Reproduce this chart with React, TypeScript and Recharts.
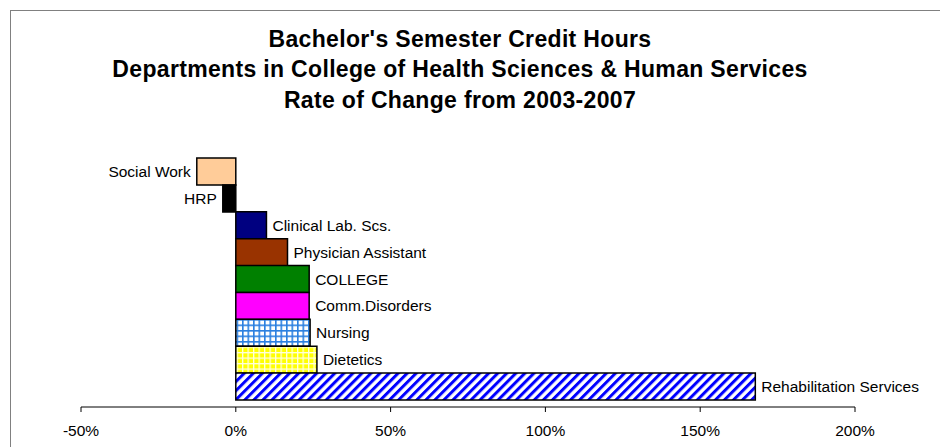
import { Bar, BarChart, Cell, LabelList, XAxis, YAxis } from 'recharts'

const departments = [
  'Social Work',
  'HRP',
  'Clinical Lab. Scs.',
  'Physician Assistant',
  'COLLEGE',
  'Comm.Disorders',
  'Nursing',
  'Dietetics',
  'Rehabilitation Services',
]
// rate of change 2003-2007, in percent
const rateOfChange = [-12.6, -4.2, 9.9, 16.7, 23.7, 23.7, 24.0, 26.2, 167.8]
const barFills = [
  '#FFCC99',
  '#000000',
  '#000080',
  '#993300',
  '#008000',
  '#FF00FF',
  'url(#smallGrid)',
  'url(#yellowGrid)',
  'url(#diagStripe)',
]
const xTicks = [-50, 0, 50, 100, 150, 200]
const titleLines = [
  "Bachelor's Semester Credit Hours",
  'Departments in College of Health Sciences & Human Services',
  'Rate of Change from 2003-2007',
]

const FONT = "'Liberation Sans', Arial, sans-serif"

const data = departments.map((name, i) => ({ name, value: rateOfChange[i] }))

function BarLabel(props: any) {
  const { x, y, width, height, index } = props
  const v = rateOfChange[index] ?? 0
  const left = Math.min(x, x + width)
  const right = Math.max(x, x + width)
  const neg = v < 0
  return (
    <text
      x={neg ? left - 6 : right + 6}
      y={y + height / 2}
      textAnchor={neg ? 'end' : 'start'}
      dominantBaseline="central"
      fontSize={15.5}
      fontFamily={FONT}
      fill="#000"
    >
      {departments[index]}
    </text>
  )
}

export default function App() {
  return (
    <div style={{ position: 'absolute', left: 0, top: 0, width: 940, height: 447, background: '#fff', fontFamily: FONT }}>
      <div
        style={{
          position: 'absolute',
          left: 10,
          top: 10,
          width: 930,
          height: 437,
          borderTop: '1px solid #808080',
          borderLeft: '1px solid #808080',
          boxSizing: 'border-box',
        }}
      />
      <svg width={940} height={130} style={{ position: 'absolute', left: 0, top: 0 }}>
        {titleLines.map((t, i) => (
          <text
            key={t}
            x={460}
            y={46.5 + i * 30.7}
            textAnchor="middle"
            fontSize={23}
            letterSpacing={0.33}
            fontWeight="bold"
            fontFamily={FONT}
            fill="#000"
          >
            {t}
          </text>
        ))}
      </svg>
      <div style={{ position: 'absolute', left: 0, top: 0 }}>
        <BarChart
          width={940}
          height={447}
          data={data}
          layout="vertical"
          barCategoryGap={0}
          margin={{ top: 158, right: 85, bottom: 10, left: 81 }}
        >
          <defs>
            <pattern id="smallGrid" width={5.5} height={5.5} patternUnits="userSpaceOnUse">
              <rect width={5.5} height={5.5} fill="#ffffff" />
              <rect width={1.6} height={5.5} fill="#2a7fe0" />
              <rect width={5.5} height={1.6} fill="#2a7fe0" />
            </pattern>
            <pattern id="yellowGrid" width={5.5} height={5.5} patternUnits="userSpaceOnUse">
              <rect width={5.5} height={5.5} fill="#ffffe0" />
              <rect x={1.3} y={1.3} width={4.2} height={4.2} fill="#ffff00" />
            </pattern>
            <pattern
              id="diagStripe"
              width={6.4}
              height={6.4}
              patternUnits="userSpaceOnUse"
              patternTransform="rotate(45)"
            >
              <rect width={6.4} height={6.4} fill="#ffffff" />
              <rect width={3} height={6.4} fill="#0000ff" />
            </pattern>
          </defs>
          <XAxis
            type="number"
            domain={[-50, 200]}
            ticks={xTicks}
            tickFormatter={(v: number) => `${v}%`}
            stroke="#000"
            tick={{ fill: '#000', fontSize: 15.5, fontFamily: FONT }}
            tickSize={5}
            tickMargin={13}
            height={30}
            allowDataOverflow
          />
          <YAxis type="category" dataKey="name" hide padding={{ top: 0, bottom: 7 }} />
          <Bar dataKey="value" stroke="#000" strokeWidth={1.5} isAnimationActive={false}>
            {data.map((d, i) => (
              <Cell key={d.name} fill={barFills[i]} />
            ))}
            <LabelList dataKey="value" content={<BarLabel />} />
          </Bar>
        </BarChart>
      </div>
    </div>
  )
}
